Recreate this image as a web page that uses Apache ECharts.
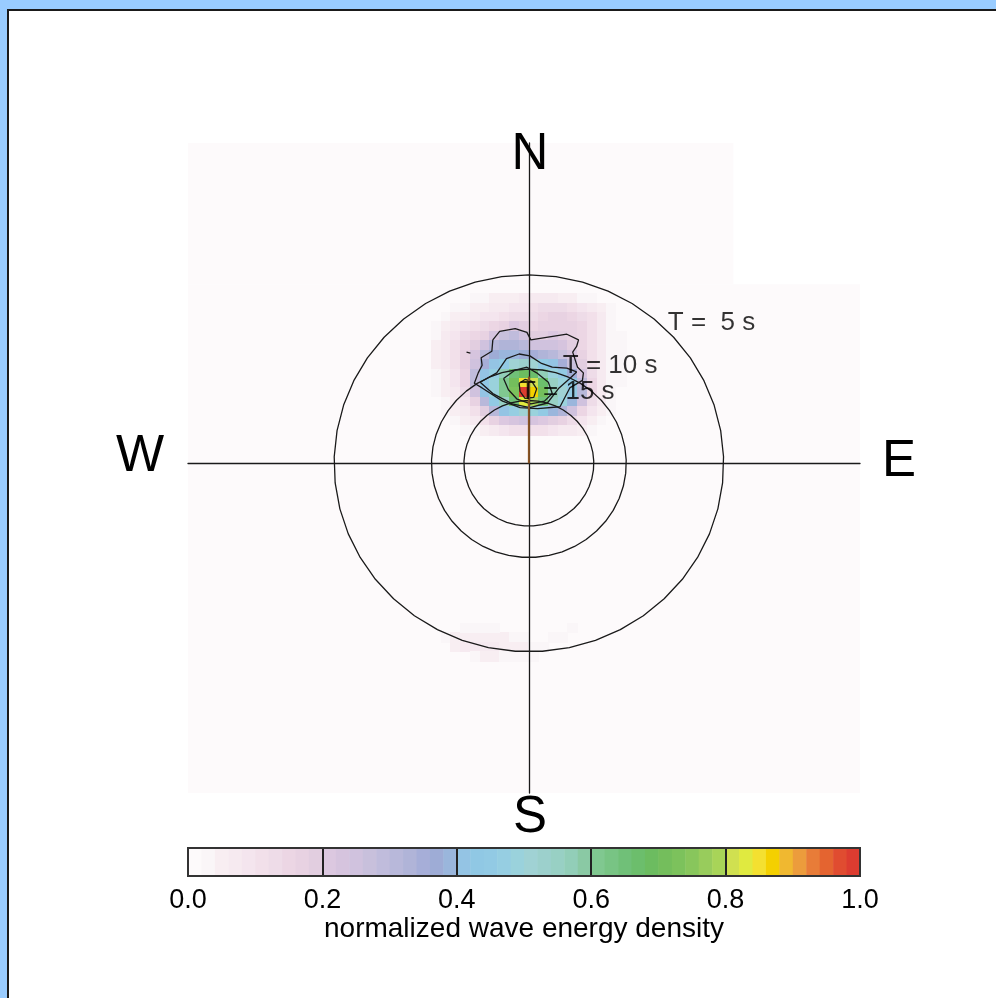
<!DOCTYPE html>
<html>
<head>
<meta charset="utf-8">
<script src="https://cdn.jsdelivr.net/npm/echarts@6/dist/echarts.min.js"></script>
<style>
  html, body { margin: 0; padding: 0; width: 996px; height: 998px; overflow: hidden; background: #99ccff; }
  #panel { position: absolute; left: 7px; top: 9px; width: 1000px; height: 1000px; background: #ffffff;
           border-top: 2px solid #1a1a1a; border-left: 2px solid #1a1a1a; box-sizing: border-box; }
  #chart { position: absolute; left: 0; top: 0; width: 996px; height: 998px; }
</style>
</head>
<body>
<div id="panel"></div>
<div id="chart"></div>
<script>
// Directional wave spectrum in frequency space (fx east, fy north, Hz).
const FONT = '"Liberation Sans", Arial, Helvetica, sans-serif';

// Colour scale: 50 steps from 0.0 to 1.0
const palette = [
  '#fdfafb', '#faf6f8', '#f8eef2', '#f6eaf0', '#f4e5ee', '#f2e0ea', '#eedce8', '#ecd6e4', '#e8d2e2', '#e2cee0',
  '#dcc8e0', '#d6c4de', '#d0c2de', '#c8c0dc', '#c0bcdc', '#b8b8da', '#b0b4d8', '#a6aed8', '#9eacd6', '#9ab6dc',
  '#94c4e4', '#90c8e4', '#92cae4', '#96cee2', '#9ad2dc', '#a0d2d4', '#9cd0cc', '#98d0c4', '#92ceb8', '#8ac9a4',
  '#80c890', '#78c484', '#70c078', '#6cbe6c', '#6cbc60', '#74be5c', '#7cc25c', '#88c65c', '#98cc5c', '#a8d458',
  '#d0e050', '#e0ea40', '#f4e030', '#f4d000', '#f0b830', '#ec9c3c', '#e87c38', '#e46430', '#e04c30', '#dc3c30'
];

// Spectral grid cell size (Hz)
const CELL = 0.01;

// Extent of the spectral grid (fxMin, fxMax, fyMin, fyMax)
const gridCoverage = [
  [-0.35, 0.34, -0.35, 0.19],
  [-0.35, 0.21, 0.19, 0.34]
];

// Energy around the spectral peak: column centres (fx) and row centres (fy)
const colFx = [-0.095, -0.085, -0.075, -0.065, -0.055, -0.045, -0.035, -0.025, -0.015, -0.005,
                0.005,  0.015,  0.025,  0.035,  0.045,  0.055,  0.065,  0.075,  0.085,  0.095];
const rowFy = [0.175, 0.165, 0.155, 0.145, 0.135, 0.125, 0.115, 0.105, 0.095, 0.085, 0.075, 0.065, 0.055, 0.045, 0.035];
const energyRows = [
  [0, 0, 0, 0.01, 0.02, 0.03, 0.04, 0.05, 0.05, 0.06, 0.06, 0.06, 0.06, 0.05, 0.04, 0.03, 0.02, 0.01, 0, 0],
  [0, 0.01, 0.02, 0.03, 0.04, 0.05, 0.06, 0.07, 0.08, 0.09, 0.10, 0.12, 0.12, 0.12, 0.11, 0.09, 0.06, 0.04, 0.02, 0.01],
  [0.01, 0.02, 0.04, 0.05, 0.06, 0.08, 0.09, 0.10, 0.12, 0.12, 0.13, 0.15, 0.16, 0.16, 0.15, 0.13, 0.10, 0.06, 0.03, 0.01],
  [0.02, 0.04, 0.06, 0.08, 0.10, 0.12, 0.14, 0.17, 0.20, 0.18, 0.15, 0.16, 0.17, 0.17, 0.16, 0.14, 0.10, 0.06, 0.03, 0.01],
  [0.03, 0.06, 0.09, 0.12, 0.14, 0.17, 0.22, 0.27, 0.28, 0.25, 0.19, 0.19, 0.20, 0.19, 0.17, 0.14, 0.10, 0.06, 0.03, 0.02],
  [0.04, 0.07, 0.10, 0.14, 0.18, 0.24, 0.30, 0.33, 0.33, 0.30, 0.24, 0.24, 0.24, 0.22, 0.19, 0.15, 0.10, 0.06, 0.03, 0.02],
  [0.04, 0.07, 0.11, 0.16, 0.22, 0.30, 0.36, 0.38, 0.38, 0.37, 0.34, 0.32, 0.30, 0.27, 0.22, 0.16, 0.10, 0.06, 0.03, 0.02],
  [0.04, 0.06, 0.10, 0.16, 0.24, 0.34, 0.40, 0.44, 0.50, 0.52, 0.50, 0.45, 0.40, 0.34, 0.26, 0.18, 0.11, 0.06, 0.03, 0.02],
  [0.03, 0.05, 0.09, 0.15, 0.28, 0.40, 0.46, 0.56, 0.64, 0.68, 0.66, 0.56, 0.48, 0.44, 0.36, 0.22, 0.12, 0.06, 0.03, 0.02],
  [0.02, 0.04, 0.08, 0.14, 0.28, 0.42, 0.48, 0.60, 0.70, 0.84, 0.80, 0.66, 0.54, 0.48, 0.42, 0.28, 0.15, 0.07, 0.03, 0.02],
  [0.02, 0.04, 0.07, 0.12, 0.24, 0.40, 0.48, 0.60, 0.72, 0.98, 0.86, 0.70, 0.56, 0.50, 0.44, 0.30, 0.15, 0.07, 0.03, 0.01],
  [0.01, 0.03, 0.05, 0.09, 0.16, 0.30, 0.44, 0.54, 0.64, 0.82, 0.78, 0.64, 0.54, 0.48, 0.38, 0.24, 0.12, 0.06, 0.02, 0.01],
  [0.01, 0.02, 0.04, 0.06, 0.10, 0.18, 0.30, 0.40, 0.46, 0.50, 0.48, 0.44, 0.38, 0.32, 0.24, 0.15, 0.08, 0.04, 0.02, 0.01],
  [0, 0.01, 0.02, 0.04, 0.06, 0.10, 0.16, 0.20, 0.22, 0.24, 0.22, 0.20, 0.18, 0.16, 0.12, 0.08, 0.05, 0.02, 0.01, 0],
  [0, 0, 0.01, 0.02, 0.03, 0.05, 0.07, 0.09, 0.10, 0.10, 0.10, 0.10, 0.09, 0.07, 0.06, 0.04, 0.02, 0.01, 0, 0]
];

// Weak energy along the southern edge of the 5 s circle: [fx, fy, value]
const southCells = [
  [-0.085, -0.185, 0.03], [-0.075, -0.185, 0.04], [-0.065, -0.185, 0.05], [-0.055, -0.185, 0.05], [-0.045, -0.185, 0.05],
  [-0.035, -0.185, 0.04], [-0.025, -0.185, 0.04], [-0.015, -0.185, 0.03], [-0.005, -0.185, 0.03],
  [-0.075, -0.195, 0.04], [-0.065, -0.195, 0.06], [-0.055, -0.195, 0.07], [-0.045, -0.195, 0.07], [-0.035, -0.195, 0.06],
  [-0.025, -0.195, 0.05], [-0.015, -0.195, 0.05], [-0.005, -0.195, 0.04], [0.005, -0.195, 0.03], [0.015, -0.195, 0.03],
  [-0.055, -0.205, 0.03], [-0.045, -0.205, 0.04], [-0.035, -0.205, 0.04], [-0.025, -0.205, 0.03], [-0.015, -0.205, 0.03],
  [-0.005, -0.205, 0.03], [0.005, -0.205, 0.02],
  [-0.065, -0.175, 0.02], [-0.055, -0.175, 0.03], [-0.045, -0.175, 0.03], [-0.035, -0.175, 0.02],
  [0.025, -0.185, 0.02], [0.035, -0.185, 0.02], [0.045, -0.175, 0.02]
];

// Contour lines of normalized energy, vertices in (fx, fy)
const contourOuter = [[-0.037,0.131],[-0.030,0.140],[-0.014,0.143],[-0.002,0.139],[0.002,0.131],[0.039,0.137],[0.051,0.131],
  [0.049,0.124],[0.045,0.118],[0.050,0.102],[0.056,0.096],[0.055,0.088],[0.042,0.080],[0.032,0.060],[0.009,0.058],
  [-0.009,0.059],[-0.027,0.066],[-0.048,0.080],[-0.056,0.085],[-0.052,0.096],[-0.048,0.104],[-0.049,0.112],[-0.038,0.119],[-0.037,0.131]];
const contour40 = [[-0.050,0.086],[-0.033,0.096],[-0.023,0.111],[-0.010,0.116],[0.001,0.114],[0.013,0.106],[0.024,0.102],
  [0.039,0.101],[0.049,0.097],[0.042,0.090],[0.031,0.080],[0.019,0.064],[0.001,0.059],[-0.017,0.063],[-0.037,0.074],[-0.050,0.086]];
const contour60 = [[-0.026,0.090],[-0.014,0.099],[-0.002,0.102],[0.008,0.096],[0.020,0.086],[0.024,0.074],[0.016,0.066],
  [0.002,0.063],[-0.012,0.068],[-0.021,0.078],[-0.026,0.090]];
const contour80 = [[-0.010,0.085],[-0.004,0.089],[0.003,0.087],[0.008,0.079],[0.005,0.070],[-0.004,0.069],[-0.009,0.076],[-0.010,0.085]];
const contourSpeck = [[-0.064,0.118],[-0.060,0.117]];
const contourLines = [contourOuter, contour40, contour60, contour80, contourSpeck];

// Low-frequency energy streak along due north
const northStreak = [[0, 0], [0, 0.092]];

// Wave period circles (s) and their labels
const periods = [5, 10, 15];
const periodLabels = ['T =  5 s', 'T = 10 s', 'T = 15 s'];
const periodLabelAt = [[0.1427, 0.1486], [0.0349, 0.1030], [-0.0092, 0.0754]];

// Compass points
const compass = ['N', 'S', 'W', 'E'];

function colorFor(v) {
  const i = Math.max(0, Math.min(palette.length - 1, Math.floor(v * palette.length)));
  return palette[i];
}

const energyCells = southCells.slice();
rowFy.forEach((fy, r) => colFx.forEach((fx, c) => {
  energyCells.push([fx, fy, energyRows[r][c]]);
}));

function circlePoints(period) {
  const r = 1 / period, pts = [];
  for (let a = 0; a <= 360; a += 8) {
    const t = a * Math.PI / 180;
    pts.push([r * Math.sin(t), r * Math.cos(t)]);
  }
  return pts;
}

const chart = echarts.init(document.getElementById('chart'), null, { renderer: 'canvas' });

const series = [];

// background coverage of the spectral grid
series.push({
  type: 'custom', xAxisIndex: 0, yAxisIndex: 0, z: 1, silent: true,
  data: gridCoverage,
  renderItem: function (params, api) {
    const p0 = api.coord([api.value(0), api.value(3)]);
    const p1 = api.coord([api.value(1), api.value(2)]);
    return { type: 'rect', shape: { x: p0[0], y: p0[1], width: p1[0] - p0[0], height: p1[1] - p0[1] },
             style: { fill: palette[0] } };
  }
});

// energy cells
series.push({
  type: 'custom', xAxisIndex: 0, yAxisIndex: 0, z: 2, silent: true,
  data: energyCells,
  renderItem: function (params, api) {
    const fx = api.value(0), fy = api.value(1), v = api.value(2);
    const p0 = api.coord([fx - CELL / 2, fy + CELL / 2]);
    const p1 = api.coord([fx + CELL / 2, fy - CELL / 2]);
    const x = Math.floor(p0[0]), y = Math.floor(p0[1]);
    return { type: 'rect', shape: { x: x, y: y, width: Math.ceil(p1[0]) - x, height: Math.ceil(p1[1]) - y },
             style: { fill: colorFor(v) } };
  }
});

// period circles
periods.forEach(function (T) {
  series.push({
    type: 'line', xAxisIndex: 0, yAxisIndex: 0, z: 4, silent: true,
    data: circlePoints(T), showSymbol: false, symbol: 'none',
    lineStyle: { color: '#1a1a1a', width: 1.3 }
  });
});

// contours
contourLines.forEach(function (c) {
  series.push({
    type: 'line', xAxisIndex: 0, yAxisIndex: 0, z: 5, silent: true,
    data: c, showSymbol: false, symbol: 'none',
    lineStyle: { color: '#1a1a1a', width: 1.3 }
  });
});

// north streak
series.push({
  type: 'line', xAxisIndex: 0, yAxisIndex: 0, z: 7, silent: true,
  data: northStreak, showSymbol: false, symbol: 'none',
  lineStyle: { color: '#8a5424', width: 2 }
});

// period labels
series.push({
  type: 'scatter', xAxisIndex: 0, yAxisIndex: 0, z: 8, silent: true,
  symbolSize: 0,
  data: periods.map((T, i) => ({ value: periodLabelAt[i], name: periodLabels[i] })),
  label: { show: true, position: 'right', distance: 0, formatter: '{b}',
           fontFamily: FONT, fontSize: 26, color: '#000' }
});

// colour bar cells
series.push({
  type: 'custom', xAxisIndex: 1, yAxisIndex: 1, z: 2, silent: true,
  data: palette.map((c, i) => [i / palette.length, (i + 1) / palette.length]),
  renderItem: function (params, api) {
    const p0 = api.coord([api.value(0), 1]);
    const p1 = api.coord([api.value(1), 0]);
    return { type: 'rect', shape: { x: p0[0], y: p0[1], width: p1[0] - p0[0] + 0.5, height: p1[1] - p0[1] },
             style: { fill: palette[params.dataIndex] } };
  }
});

const compassStyle = { fontFamily: FONT, fontSize: 51, fill: '#000', align: 'center', verticalAlign: 'middle' };

chart.setOption({
  animation: false,
  backgroundColor: 'transparent',
  grid: [
    { left: 188, top: 143, width: 672, height: 650 },
    { left: 188, top: 848, width: 672, height: 28, show: true, z: 10,
      backgroundColor: 'transparent', borderColor: '#333', borderWidth: 2 }
  ],
  xAxis: [
    { gridIndex: 0, type: 'value', min: -0.35, max: 0.34, z: 6,
      axisLine: { show: true, onZero: true, lineStyle: { color: '#1a1a1a', width: 1.3 } },
      axisTick: { show: false }, axisLabel: { show: false }, splitLine: { show: false } },
    { gridIndex: 1, type: 'value', min: 0, max: 1, interval: 0.2, z: 8,
      axisLine: { show: false }, axisTick: { show: false },
      axisLabel: { show: true, formatter: v => v.toFixed(1), fontFamily: FONT, fontSize: 27, color: '#000', margin: 11 },
      splitLine: { show: true, lineStyle: { color: '#222', width: 2 } },
      name: 'normalized wave energy density', nameLocation: 'middle', nameGap: 37,
      nameTextStyle: { fontFamily: FONT, fontSize: 28, color: '#000' } }
  ],
  yAxis: [
    { gridIndex: 0, type: 'value', min: -0.35, max: 0.34, z: 6,
      axisLine: { show: true, onZero: true, lineStyle: { color: '#1a1a1a', width: 1.3 } },
      axisTick: { show: false }, axisLabel: { show: false }, splitLine: { show: false } },
    { gridIndex: 1, type: 'value', min: 0, max: 1, show: false }
  ],
  graphic: [
    { type: 'text', x: 530, y: 155, z: 20, style: Object.assign({ text: compass[0] }, compassStyle) },
    { type: 'text', x: 530, y: 818, z: 20, style: Object.assign({ text: compass[1] }, compassStyle) },
    { type: 'text', x: 140, y: 457, z: 20, style: Object.assign({ text: compass[2] }, compassStyle) },
    { type: 'text', x: 899, y: 462, z: 20, style: Object.assign({ text: compass[3] }, compassStyle) }
  ],
  series: series
});
</script>
</body>
</html>
